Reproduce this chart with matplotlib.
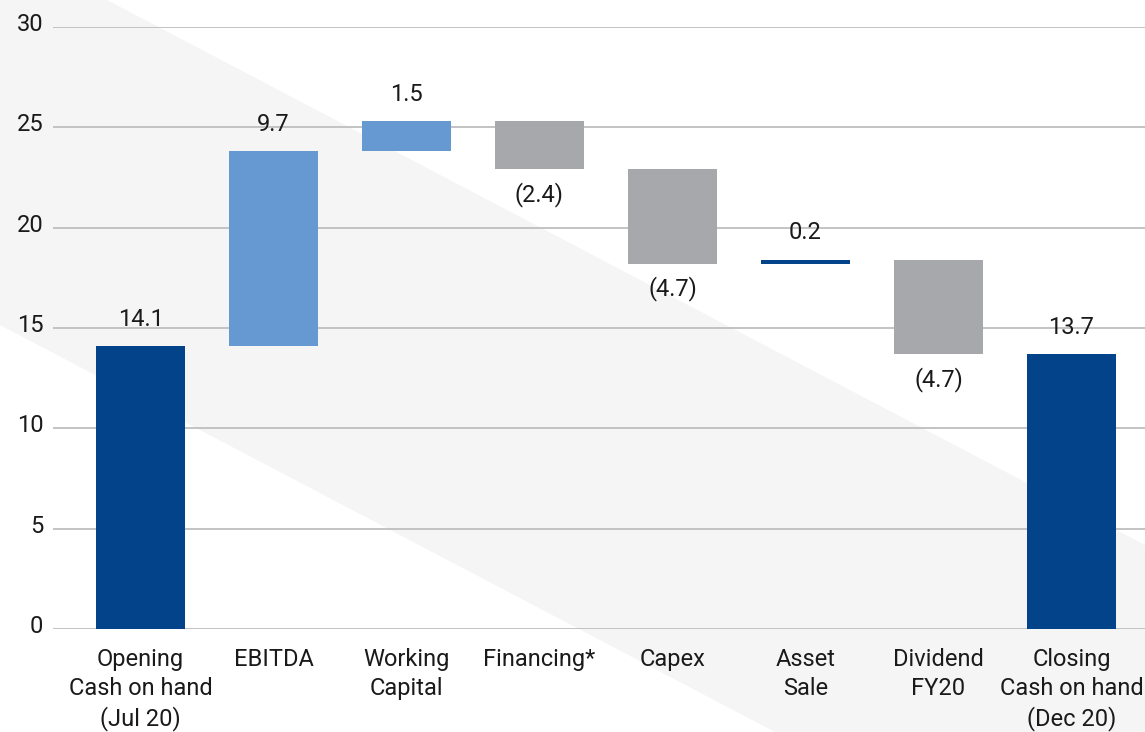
import matplotlib
matplotlib.use("Agg")
import matplotlib.pyplot as plt
import matplotlib.transforms as mtransforms
from matplotlib.patches import Polygon
import numpy as np

# Cash bridge data (A$m)
categories = ["Opening\nCash on hand\n(Jul 20)", "EBITDA", "Working\nCapital",
              "Financing*", "Capex", "Asset\nSale", "Dividend\nFY20",
              "Closing\nCash on hand\n(Dec 20)"]
values = [14.1, 9.7, 1.5, -2.4, -4.7, 0.2, -4.7, 13.7]
kinds = ["total", "up", "up", "down", "down", "total_small", "down", "total"]
y_ticks = [0, 5, 10, 15, 20, 25, 30]

DARK = "#03438a"
LIGHT = "#6699d1"
GREY = "#a7a8ab"
BAND = "#f5f5f5"
GRID = "#b9b9b9"
TEXT = "#1a1a1a"
colors = {"total": DARK, "total_small": DARK, "up": LIGHT, "down": GREY}

plt.rcParams["font.family"] = ["Roboto", "DejaVu Sans"]
FS = 17

W, H = 1145, 732
fig = plt.figure(figsize=(W / 100, H / 100), dpi=100)

# diagonal light band in the background
band_px = [(0, 0), (107, 0), (1145, 545), (1145, 732), (775, 732), (0, 325)]
band = Polygon([(x / W, 1 - y / H) for x, y in band_px], closed=True,
               transform=fig.transFigure, facecolor=BAND, edgecolor="none", zorder=-5)
fig.patches.append(band)

ax = fig.add_axes([53 / W, 1 - 629 / H, 1 - 53 / W, (629 - 27) / H])
ax.set_zorder(1)
ax.set_facecolor("none")
ax.set_ylim(0, 30)
ax.set_xlim(-0.658, 7.553)

# waterfall bottoms / heights
x = np.arange(len(values))
bottoms, heights = [], []
running = 0.0
for i, v in enumerate(values):
    if i == 0 or i == len(values) - 1:
        bottoms.append(0.0)
        heights.append(v)
        running = v
    else:
        if v >= 0:
            bottoms.append(running)
            heights.append(v)
        else:
            bottoms.append(running + v)
            heights.append(-v)
        running += v

bar_colors = [colors[k] for k in kinds]
ax.bar(x, heights, bottom=bottoms, width=0.67, color=bar_colors, zorder=3)

for i, v in enumerate(values):
    top = bottoms[i] + heights[i]
    if v >= 0:
        ax.annotate(f"{v:.1f}", (x[i], top), xytext=(0, 11), textcoords="offset points",
                    ha="center", va="bottom", fontsize=FS, color=TEXT)
    else:
        ax.annotate(f"({abs(v):.1f})", (x[i], bottoms[i]), xytext=(0, -9),
                    textcoords="offset points", ha="center", va="top",
                    fontsize=FS, color=TEXT)

ax.set_yticks(y_ticks)
ax.set_yticklabels([str(t) for t in y_ticks], fontsize=FS, color=TEXT)
ax.yaxis.grid(True, color=GRID, linewidth=1.2, zorder=1)
ax.set_axisbelow(True)
ax.tick_params(axis="y", length=0, pad=7)
offset = mtransforms.ScaledTranslation(0, 5 / 100, fig.dpi_scale_trans)
for lab in ax.get_yticklabels():
    lab.set_transform(lab.get_transform() + offset)

ax.set_xticks(x)
ax.set_xticklabels(categories, fontsize=FS, color=TEXT, linespacing=1.3)
ax.tick_params(axis="x", length=0, pad=14)

for s in ax.spines.values():
    s.set_visible(False)

fig.savefig("out.png", dpi=100)
